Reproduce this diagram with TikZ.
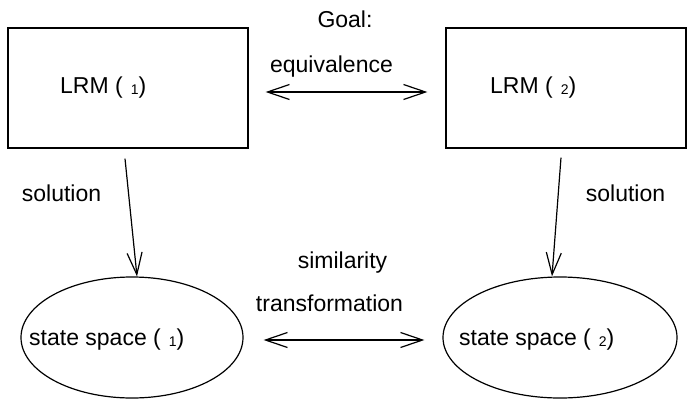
\documentclass[tikz,border=0pt]{standalone}
\usepackage{fontspec}
\setmainfont{Liberation Sans}
\usetikzlibrary{shapes,arrows.meta}
\newcommand{\lbl}{\fontsize{23}{27}\selectfont}
\newcommand{\subidx}[1]{\hspace{8pt}\raisebox{-1.5pt}{\fontsize{14}{16}\selectfont #1}}

\begin{document}
\begin{tikzpicture}[x=1pt,y=-1pt]
	\tikzstyle{every node}+=[inner sep=0pt, font=\lbl]
	\tikzstyle{model}=[draw, line width=1.2pt, minimum width=240, minimum height=120]
	\tikzstyle{space}=[draw, ellipse, line width=1.2pt, minimum height=121]
	\tikzstyle{link}=[line width=1.2pt, -{Straight Barb[length=22pt,width=15pt]}]
	\tikzstyle{twoway}=[line width=1.2pt, {Straight Barb[length=22pt,width=15pt]}-{Straight Barb[length=22pt,width=15pt]}]
	\useasboundingbox (0,0) rectangle (689,400);
	\node [model] (lrma) at (128,88) {};
	\node [model] (lrmb) at (566,88) {};
	\node [space, minimum width=222] (ssa) at (132,337.5) {};
	\node [space, minimum width=234] (ssb) at (560,337.5) {};
	\node [anchor=base west] (lrmatxt) at (60,93) {LRM (\subidx{1})};
	\node [anchor=base west] (lrmbtxt) at (490,93) {LRM (\subidx{2})};
	\node [anchor=base west] (ssatxt) at (29,345) {state space (\subidx{1})};
	\node [anchor=base west] (ssbtxt) at (459,345) {state space (\subidx{2})};
	\node [anchor=base] (goal) at (345,27) {Goal:};
	\node [anchor=base] (equiv) at (331.5,72) {equivalence};
	\node [anchor=base] (simil) at (342.5,268) {similarity};
	\node [anchor=base] (trans) at (329.5,311) {transformation};
	\node [anchor=base] (sola) at (61.5,201) {solution};
	\node [anchor=base] (solb) at (625.5,201) {solution};
	\draw [link] ([shift={(-3pt,-10pt)}]lrma.south) -- ([xshift=5pt]ssa.north);
	\draw [link] ([shift={(-5pt,-9pt)}]lrmb.south) -- ([xshift=-8pt]ssb.north);
	\draw [twoway] ([shift={(17pt,-4pt)}]lrma.east) -- ([shift={(-18pt,-4pt)}]lrmb.west);
	\draw [twoway] ([shift={(20pt,-2.5pt)}]ssa.east) -- ([shift={(-18pt,-2.5pt)}]ssb.west);
\end{tikzpicture}
\end{document}
